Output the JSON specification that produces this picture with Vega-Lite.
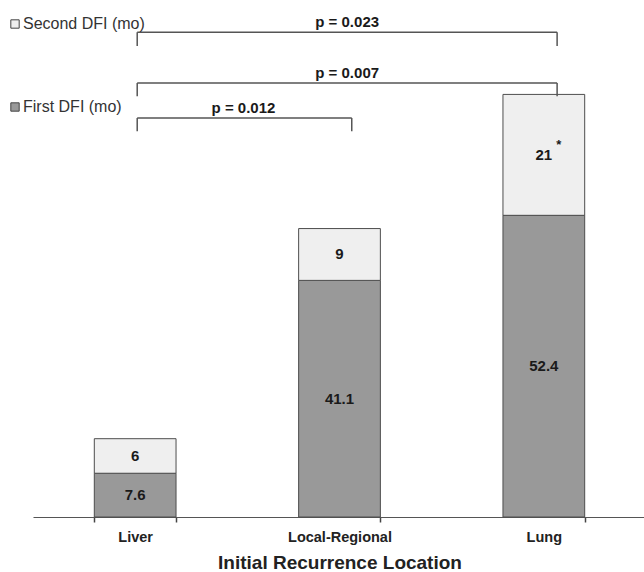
{
  "$schema": "https://vega.github.io/schema/vega-lite/v6.json",
  "width": 613,
  "height": 517,
  "autosize": {"type": "none"},
  "padding": {"left": 33, "top": 0, "right": 0, "bottom": 55},
  "background": "white",
  "config": {"view": {"stroke": null}, "font": "Liberation Sans"},
  "datasets": {
    "bars": [
      {"loc": "Liver", "type": "First DFI (mo)", "ord": 1, "value": 7.6, "note": ""},
      {"loc": "Liver", "type": "Second DFI (mo)", "ord": 2, "value": 6, "note": ""},
      {"loc": "Local-Regional", "type": "First DFI (mo)", "ord": 1, "value": 41.1, "note": ""},
      {"loc": "Local-Regional", "type": "Second DFI (mo)", "ord": 2, "value": 9, "note": ""},
      {"loc": "Lung", "type": "First DFI (mo)", "ord": 1, "value": 52.4, "note": ""},
      {"loc": "Lung", "type": "Second DFI (mo)", "ord": 2, "value": 21, "note": "*"}
    ],
    "brackets": [
      {"p": "p = 0.023", "x1": 0.51, "x2": 2.565, "xm": 1.5375, "y": 84.2, "yb": 81.8},
      {"p": "p = 0.007", "x1": 0.51, "x2": 2.565, "xm": 1.5375, "y": 75.4, "yb": 73.1},
      {"p": "p = 0.012", "x1": 0.51, "x2": 1.56, "xm": 1.03, "y": 69.3, "yb": 67.0}
    ]
  },
  "layer": [
    {
      "data": {"name": "bars"},
      "transform": [
        {"stack": "value", "groupby": ["loc"], "sort": [{"field": "ord"}], "as": ["v0", "v1"]},
        {"calculate": "(datum.v0 + datum.v1) / 2", "as": "mid"}
      ],
      "encoding": {
        "x": {
          "field": "loc",
          "type": "nominal",
          "sort": ["Liver", "Local-Regional", "Lung"],
          "scale": {"paddingInner": 0.6, "paddingOuter": 0.3},
          "title": "Initial Recurrence Location",
          "axis": {
            "domainColor": "#555555",
            "domainWidth": 1.2,
            "tickColor": "#444444",
            "tickWidth": 1.5,
            "tickSize": 5,
            "tickBand": "extent",
            "labelAngle": 0,
            "labelFontSize": 14.5,
            "labelFontWeight": "bold",
            "labelColor": "#222222",
            "labelPadding": 8,
            "titleFontSize": 19,
            "titleFontWeight": "bold",
            "titleColor": "#222222",
            "titlePadding": 10
          }
        }
      },
      "layer": [
        {
          "mark": {"type": "bar", "stroke": "#4d4d4d", "strokeWidth": 1},
          "encoding": {
            "y": {"field": "v0", "type": "quantitative", "scale": {"domain": [0, 89.8], "nice": false}, "axis": null},
            "y2": {"field": "v1"},
            "fill": {
              "field": "type",
              "type": "nominal",
              "scale": {"domain": ["Second DFI (mo)", "First DFI (mo)"], "range": ["#efefef", "#999999"]},
              "legend": {
                "orient": "none",
                "legendX": -26,
                "legendY": 16,
                "title": null,
                "symbolType": "square",
                "symbolSize": 70,
                "symbolStrokeColor": "#444444",
                "symbolStrokeWidth": 1,
                "labelFontSize": 16,
                "labelColor": "#333333",
                "labelFont": "Liberation Sans",
                "labelOffset": 0,
                "rowPadding": 67
              }
            }
          }
        },
        {
          "mark": {"type": "text", "fontWeight": "bold", "fontSize": 15, "color": "#1a1a1a"},
          "encoding": {
            "y": {"field": "mid", "type": "quantitative"},
            "text": {"field": "value", "type": "nominal"}
          }
        },
        {
          "mark": {"type": "text", "fontWeight": "bold", "fontSize": 13, "dx": 15, "dy": -10, "color": "#1a1a1a"},
          "encoding": {
            "y": {"field": "mid", "type": "quantitative"},
            "text": {"field": "note", "type": "nominal"}
          }
        }
      ]
    },
    {
      "data": {"name": "brackets"},
      "encoding": {
        "x": {"field": "x1", "type": "quantitative", "scale": {"domain": [0, 3], "nice": false, "zero": false}, "axis": null}
      },
      "layer": [
        {
          "mark": {"type": "rule", "color": "#555555", "strokeWidth": 1.5},
          "encoding": {
            "x2": {"field": "x2"},
            "y": {"field": "y", "type": "quantitative"}
          }
        },
        {
          "mark": {"type": "rule", "color": "#555555", "strokeWidth": 1.5},
          "encoding": {
            "y": {"field": "y", "type": "quantitative"},
            "y2": {"field": "yb"}
          }
        },
        {
          "mark": {"type": "rule", "color": "#555555", "strokeWidth": 1.5},
          "encoding": {
            "x": {"field": "x2", "type": "quantitative"},
            "y": {"field": "y", "type": "quantitative"},
            "y2": {"field": "yb"}
          }
        },
        {
          "mark": {"type": "text", "fontWeight": "bold", "fontSize": 15, "color": "#1a1a1a", "baseline": "alphabetic", "dy": -5},
          "encoding": {
            "x": {"field": "xm", "type": "quantitative"},
            "y": {"field": "y", "type": "quantitative"},
            "text": {"field": "p", "type": "nominal"}
          }
        }
      ]
    }
  ],
  "resolve": {"scale": {"x": "independent"}}
}
